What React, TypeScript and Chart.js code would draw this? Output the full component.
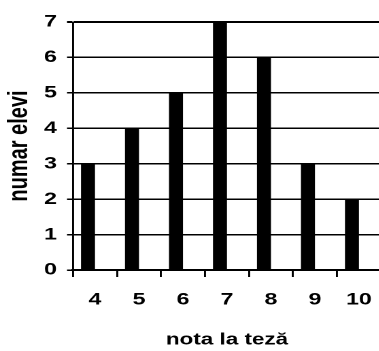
import React, { useEffect, useRef } from "react";
import { Chart, registerables } from "chart.js";

Chart.register(...registerables);

const categories = ["4", "5", "6", "7", "8", "9", "10"];
const numarElevi = [3, 4, 5, 7, 6, 3, 2];
const emptySeries = [null, null, null, null, null, null, null];
const yTickValues = [0, 1, 2, 3, 4, 5, 6, 7];

const xTitle = "nota la teză";
const yTitle = "numar elevi";

const S = 1.36; // horizontal stretch of the reference picture
const FONT = "'Liberation Sans', Arial, sans-serif";

export default function App() {
  const canvasRef = useRef<HTMLCanvasElement | null>(null);

  useEffect(() => {
    if (!canvasRef.current) return;
    const chart = new Chart(canvasRef.current, {
      type: "bar",
      data: {
        labels: categories,
        datasets: [
          {
            label: yTitle,
            data: numarElevi,
            backgroundColor: "#000000",
            borderWidth: 0,
            categoryPercentage: 28 / 44,
            barPercentage: 1,
          },
          {
            label: "",
            data: emptySeries as any,
            backgroundColor: "#000000",
            borderWidth: 0,
            categoryPercentage: 28 / 44,
            barPercentage: 1,
          },
        ],
      },
      options: {
        animation: false,
        responsive: true,
        maintainAspectRatio: false,
        devicePixelRatio: 2,
        layout: { padding: { left: 0, right: 0, top: 22, bottom: 0 } },
        plugins: {
          legend: { display: false },
          tooltip: { enabled: false },
        },
        scales: {
          x: {
            offset: true,
            grid: {
              offset: true,
              drawOnChartArea: false,
              drawTicks: true,
              tickLength: 7,
              color: "#000000",
              lineWidth: 2 / S,
            },
            border: { display: true, color: "#000000", width: 2 },
            ticks: {
              color: "#000000",
              font: { family: FONT, size: 17, weight: "bold" },
              padding: 12.8,
              maxRotation: 0,
              autoSkip: false,
            },
            title: {
              display: true,
              text: xTitle,
              color: "#000000",
              font: { family: FONT, size: 16.5, weight: "bold", lineHeight: 1.2 },
              padding: { top: 0, bottom: 1.1 },
            },
            afterFit: (scale: any) => {
              scale.height = 81;
              scale.paddingLeft = 0;
              scale.paddingRight = 0;
            },
          },
          y: {
            min: 0,
            max: 7,
            afterBuildTicks: (scale: any) => {
              scale.ticks = yTickValues.map((v) => ({ value: v }));
            },
            grid: {
              color: "#000000",
              lineWidth: (ctx: any) => (ctx.tick && ctx.tick.value === 7 ? 2 : 1.5),
              drawTicks: true,
              tickLength: 6 / S,
            },
            border: { display: true, color: "#000000", width: 2 / S },
            ticks: {
              color: "#000000",
              font: { family: FONT, size: 17, weight: "bold" },
              padding: 7.4,
            },
            title: {
              display: true,
              text: yTitle,
              color: "#000000",
              font: { family: FONT, size: 20, weight: "bold", lineHeight: 1.2 },
              padding: { top: 2.7, bottom: 0 },
            },
            afterFit: (scale: any) => {
              scale.width = 73 / S;
              scale.paddingTop = 0;
              scale.paddingBottom = 0;
            },
          },
        },
      },
    });
    return () => chart.destroy();
  }, []);

  return (
    <div
      style={{
        position: "fixed",
        left: 0,
        top: 0,
        width: 379,
        height: 351,
        overflow: "hidden",
        background: "#ffffff",
      }}
    >
      <div
        style={{
          width: (73 + 308) / S,
          height: 351,
          transform: `scaleX(${S})`,
          transformOrigin: "0 0",
        }}
      >
        <canvas ref={canvasRef} />
      </div>
    </div>
  );
}
